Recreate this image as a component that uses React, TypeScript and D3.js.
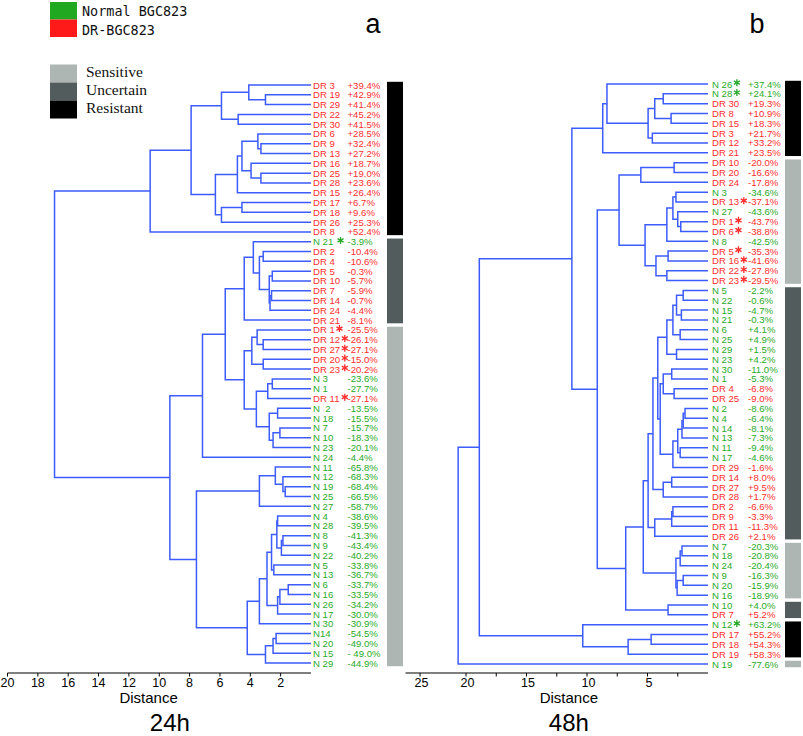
import React from "react";
import * as d3 from "d3";

type TreeNode = number | [TreeNode, TreeNode, number];

// ---------- Panel a (24h) ----------
const leavesA = ["DR 3","DR 19","DR 29","DR 22","DR 30","DR 6","DR 9","DR 13","DR 16","DR 25","DR 28","DR 15","DR 17","DR 18","DR 26","DR 8","N 21 ","DR 2","DR 4","DR 5","DR 10","DR 7","DR 14","DR 24","DR 21","DR 1","DR 12","DR 27","DR 20","DR 23","N 3","N 1","DR 11","N  2","N 18","N 7","N 10","N 23","N 24","N 11","N 12","N 19","N 25","N 27","N 4","N 28","N 8","N 9","N 22","N 5","N 13","N 6","N 16","N 26","N 17","N 30","N14","N 20","N 15","N 29"];
const valuesA = ["+39.4%","+42.9%","+41.4%","+45.2%","+41.5%","+28.5%","+32.4%","+27.2%","+18.7%","+19.0%","+23.6%","+26.4%","+6.7%","+9.6%","+25.3%","+52.4%","-3.9%","-10.4%","-10.6%","-0.3%","-5.7%","-5.9%","-0.7%","-4.4%","-8.1%","-25.5%","-26.1%","-27.1%","-15.0%","-20.2%","-23.6%","-27.7%","-27.1%","-13.5%","-15.5%","-15.7%","-18.3%","-20.1%","-4.4%","-65.8%","-68.3%","-68.4%","-66.5%","-58.7%","-38.6%","-39.5%","-41.3%","-43.4%","-40.2%","-33.8%","-36.7%","-33.7%","-33.5%","-34.2%","-30.0%","-30.9%","-54.5%","-49.0%","- 49.0%","-44.9%"];
const starsA = [16, 25, 26, 27, 28, 29, 32];
const classesA = [
  { cls: "Resistant", from: 0, to: 15 },
  { cls: "Uncertain", from: 16, to: 24 },
  { cls: "Sensitive", from: 25, to: 59 },
];
const topClusterA: TreeNode = [[0, [1, 2, 3.0], 4.1], [3, 4, 4.8], 5.9];
const midClusterA: TreeNode = [[[[5, [6, 7, 3.3], 3.5], [8, [9, 10, 3.3], 3.95], 4.55], 11, 4.85], [[12, 13, 4.55], 14, 5.9], 6.3];
const upperA: TreeNode = [[topClusterA, midClusterA, 7.9], 15, 10.6];
const uncertainA: TreeNode = [[16, [[17, 18, 3.15], [[19, 20, 2.55], [[21, 22, 2.6], 23, 2.7], 2.75], 3.4], 3.8], 24, 4.4];
const sensA1: TreeNode = [[25, [26, 27, 3.15], 3.55], [28, 29, 3.15], 3.9];
const sensA2: TreeNode = [[[30, 31, 2.55], 32, 2.85], [[33, 34, 2.2], [[35, 36, 2.05], 37, 2.5], 2.75], 3.6];
const groupA1: TreeNode = [[uncertainA, [sensA1, sensA2, 4.4], 5.65], 38, 7.15];
const sensA3: TreeNode = [[39, [40, [41, 42, 1.7], 1.85], 2.35], 43, 3.4];
const sensA4: TreeNode = [[[[44, 45, 2.2], [[46, 47, 1.85], 48, 1.95], 2.25], [49, 50, 2.45], 2.6], [[[51, 52, 1.5], 53, 2.05], 54, 2.2], 2.9];
const sensA5: TreeNode = [[[56, 57, 2.3], 58, 2.5], 59, 3.0];
const lowerA: TreeNode = [groupA1, [sensA3, [[sensA4, 55, 3.4], sensA5, 4.2], 7.55], 9.3];
const treeA: TreeNode = [upperA, lowerA, 16.9];
const ticksA = [20, 18, 16, 14, 12, 10, 8, 6, 4, 2];

// ---------- Panel b (48h) ----------
const leavesB = ["N 26","N 28","DR 30","DR 8","DR 15","DR 3","DR 12","DR 21","DR 10","DR 20","DR 24","N 3","DR 13","N 27","DR 1","DR 6","N 8","DR 5","DR 16","DR 22","DR 23","N 5","N 22","N 15","N 21","N 6","N 25","N 29","N 23","N 30","N 1","DR 4","DR 25","N 2","N 4","N 14","N 13","N 11","N 17","DR 29","DR 14","DR 27","DR 28","DR 2","DR 9","DR 11","DR 26","N 7","N 18","N 24","N 9","N 20","N 16","N 10","DR 7","N 12","DR 17","DR 18","DR 19","N 19"];
const valuesB = ["+37.4%","+24.1%","+19.3%","+10.9%","+18.3%","+21.7%","+33.2%","+23.5%","-20.0%","-16.6%","-17.8%","-34.6%","-37.1%","-43.6%","-43.7%","-38.8%","-42.5%","-35.3%","-41.6%","-27.8%","-29.5%","-2.2%","-0.6%","-4.7%","-0.3%","+4.1%","+4.9%","+1.5%","+4.2%","-11.0%","-5.3%","-6.8%","-9.0%","-8.6%","-6.4%","-8.1%","-7.3%","-9.4%","-4.6%","-1.6%","+8.0%","+9.5%","+1.7%","-6.6%","-3.3%","-11.3%","+2.1%","-20.3%","-20.8%","-20.4%","-16.3%","-15.9%","-18.9%","+4.0%","+5.2%","+63.2%","+55.2%","+54.3%","+58.3%","-77.6%"];
const starsB = [0, 1, 12, 14, 15, 17, 18, 19, 20, 55];
const classesB = [
  { cls: "Resistant", from: 0, to: 7 },
  { cls: "Sensitive", from: 8, to: 20 },
  { cls: "Uncertain", from: 21, to: 46 },
  { cls: "Sensitive", from: 47, to: 52 },
  { cls: "Uncertain", from: 53, to: 54 },
  { cls: "Resistant", from: 55, to: 58 },
  { cls: "Sensitive", from: 59, to: 59 },
];
const resB: TreeNode = [[0, [[[1, 2, 3.7], [3, 4, 3.05], 4.4], [5, 6, 4.6], 4.95], 8.35], 7, 8.7];
const sensB1: TreeNode = [[[8, 9, 2.8], 10, 5.55], [[[[11, 12, 2.65], [13, [14, 15, 2.25], 2.5], 2.9], 16, 3.4], [[17, 18, 3.3], [19, 20, 3.4], 4.3], 5.2], 7.35];
const uncB1: TreeNode = [[[[21, 22, 2.05], [23, 24, 2.2], 2.6], [25, 26, 2.3], 2.9], [27, 28, 2.6], 3.4];
const uncB2: TreeNode = [[29, 30, 3.0], [31, 32, 2.8], 3.7];
const uncB3: TreeNode = [[[[[33, 34, 1.9], 35, 2.05], 36, 2.15], [37, 38, 2.3], 2.5], 39, 2.9];
const uncB4: TreeNode = [[40, 41, 3.0], 42, 3.7];
const uncB5: TreeNode = [[[43, 44, 2.9], 45, 3.0], 46, 4.4];
const uncB: TreeNode = [[[uncB1, [uncB2, uncB3, 3.95], 4.15], uncB4, 4.55], uncB5, 4.95];
const sensB2: TreeNode = [[[47, 48, 2.15], 49, 2.3], [[50, 51, 2.05], 52, 2.55], 2.65];
const midB: TreeNode = [sensB1, [[uncB, sensB2, 5.35], [53, 54, 3.3], 6.8], 9.15];
const resB2: TreeNode = [55, [[56, 57, 4.7], 58, 6.6], 10.35];
const treeB: TreeNode = [[[resB, midB, 11.25], resB2, 18.9], 59, 20.65];
const tickMarksB = [2.5, 5, 7.5, 10, 12.5, 15, 17.5, 20, 23.8];
const tickLabelsB = [
  { v: 23.8, t: "25" },
  { v: 20, t: "20" },
  { v: 15, t: "15" },
  { v: 10, t: "10" },
  { v: 5, t: "5" },
];

// ---------- legends ----------
const cellLegend = [
  { name: "Normal BGC823", color: "#21a821" },
  { name: "DR-BGC823", color: "#ff1a1a" },
];
const classLegend = ["Sensitive", "Uncertain", "Resistant"];
const classColor: Record<string, string> = {
  Sensitive: "#adb6b3",
  Uncertain: "#525c5c",
  Resistant: "#000000",
};

const LINE = "#3d5cff";
const GREEN = "#2aaa2a";
const RED = "#ff2e2e";
const SANS = "'Liberation Sans', Arial, sans-serif";
const LABEL_SIZE = 9.6;

// Arial/Liberation Sans advance widths (em) for the label characters
const charW: Record<string, number> = { D: 0.722, R: 0.722, N: 0.722, " ": 0.278 };
function labelWidth(s: string): number {
  let w = 0;
  for (const ch of s) w += charW[ch] ?? 0.556;
  return w * LABEL_SIZE;
}
const starPath = d3.symbol(d3.symbolAsterisk, 34)() as string;

function layoutTree(
  tree: TreeNode,
  xs: d3.ScaleLinear<number, number>,
  ys: d3.ScaleLinear<number, number>
): string[] {
  const paths: string[] = [];
  function walk(n: TreeNode): { y: number; d: number } {
    if (typeof n === "number") return { y: ys(n), d: 0 };
    const [l, r, h] = n;
    const a = walk(l);
    const b = walk(r);
    const p = d3.path();
    p.moveTo(xs(a.d), a.y);
    p.lineTo(xs(h), a.y);
    p.lineTo(xs(h), b.y);
    p.lineTo(xs(b.d), b.y);
    paths.push(p.toString());
    return { y: (a.y + b.y) / 2, d: h };
  }
  walk(tree);
  return paths;
}

type PanelProps = {
  leaves: string[];
  values: string[];
  stars: number[];
  classes: { cls: string; from: number; to: number }[];
  tree: TreeNode;
  xs: d3.ScaleLinear<number, number>;
  ys: d3.ScaleLinear<number, number>;
  labelX: number;
  valueX: number;
  barX: number;
  barW: number;
};

function Panel(p: PanelProps) {
  const paths = layoutTree(p.tree, p.xs, p.ys);
  const step = p.ys(1) - p.ys(0);
  return (
    <g>
      {paths.map((d, i) => (
        <path key={i} d={d} fill="none" stroke={LINE} strokeWidth={1.5} />
      ))}
      {p.leaves.map((lab, i) => {
        const col = lab.startsWith("N") ? GREEN : RED;
        const y = p.ys(i);
        return (
          <g key={i} fill={col} fontFamily={SANS} fontSize={LABEL_SIZE}>
            <text x={p.labelX} y={y + 3.5} style={{ whiteSpace: "pre" }}>
              {lab}
            </text>
            {p.stars.includes(i) ? (
              <path
                d={starPath}
                transform={`translate(${p.labelX + labelWidth(lab) + 4.6},${y - 1.3})`}
                fill="none"
                stroke={col}
                strokeWidth={1.35}
              />
            ) : null}
            <text x={p.valueX} y={y + 3.5} style={{ whiteSpace: "pre" }}>
              {p.values[i]}
            </text>
          </g>
        );
      })}
      {p.classes.map((c, i) => (
        <rect
          key={i}
          x={p.barX}
          width={p.barW}
          y={p.ys(c.from) - step / 2 + 1.7}
          height={p.ys(c.to) - p.ys(c.from) + step - 3.4}
          fill={classColor[c.cls]}
        />
      ))}
    </g>
  );
}

export default function App() {
  const xA = d3.scaleLinear().domain([0, 20]).range([311, 7.5]);
  const yA = d3.scaleLinear().domain([0, 59]).range([85, 663]);
  const xB = d3.scaleLinear().domain([0, 25]).range([708, 405.5]);
  const yB = d3.scaleLinear().domain([0, 59]).range([84, 664]);
  const axisY = 673;

  return (
    <svg
      width={803}
      height={736}
      style={{ position: "absolute", left: 0, top: 0, background: "#fff" }}
    >
      <rect x={0} y={0} width={803} height={736} fill="#fff" />
      {/* cell legend */}
      {cellLegend.map((c, i) => (
        <g key={c.name}>
          <rect x={50} y={2 + i * 17.5} width={27} height={17.5} fill={c.color} />
          <text
            x={82}
            y={16 + i * 19}
            fontFamily="'DejaVu Sans Mono', monospace"
            fontSize={14.5}
            textLength={c.name.length * 8.1}
            lengthAdjust="spacingAndGlyphs"
            fill="#111"
          >
            {c.name}
          </text>
        </g>
      ))}
      {/* class legend */}
      {classLegend.map((c, i) => (
        <g key={c}>
          <rect x={50} y={64.5 + i * 18} width={27} height={18} fill={classColor[c]} />
          <text
            x={86}
            y={77 + i * 18}
            fontFamily="'Liberation Serif', 'Times New Roman', serif"
            fontSize={15.5}
            fill="#111"
          >
            {c}
          </text>
        </g>
      ))}

      <Panel
        leaves={leavesA}
        values={valuesA}
        stars={starsA}
        classes={classesA}
        tree={treeA}
        xs={xA}
        ys={yA}
        labelX={313}
        valueX={347.5}
        barX={387}
        barW={16}
      />
      <Panel
        leaves={leavesB}
        values={valuesB}
        stars={starsB}
        classes={classesB}
        tree={treeB}
        xs={xB}
        ys={yB}
        labelX={712}
        valueX={748}
        barX={785}
        barW={16}
      />

      {/* axis a */}
      <g fontFamily={SANS} fontSize={12.5} fill="#000">
        <line x1={xA(20)} x2={xA(0)} y1={axisY} y2={axisY} stroke="#000" strokeWidth={1.2} />
        {ticksA.map((t) => (
          <g key={t}>
            <line x1={xA(t)} x2={xA(t)} y1={axisY} y2={axisY + 3.5} stroke="#000" strokeWidth={1} />
            <text x={xA(t)} y={axisY + 14} textAnchor="middle">
              {t}
            </text>
          </g>
        ))}
        <text x={xA(10.7)} y={703} textAnchor="middle" fontSize={15}>
          Distance
        </text>
        <text x={xA(9.3)} y={731} textAnchor="middle" fontSize={24}>
          24h
        </text>
        <text x={373} y={33} textAnchor="middle" fontSize={27}>
          a
        </text>
      </g>

      {/* axis b */}
      <g fontFamily={SANS} fontSize={12.5} fill="#000">
        <line x1={xB(25)} x2={xB(0)} y1={axisY} y2={axisY} stroke="#000" strokeWidth={1.2} />
        {tickMarksB.map((t) => (
          <line key={t} x1={xB(t)} x2={xB(t)} y1={axisY} y2={axisY + 3.5} stroke="#000" strokeWidth={1} />
        ))}
        {tickLabelsB.map((t) => (
          <text key={t.t} x={xB(t.v) + 1.5} y={axisY + 14} textAnchor="middle">
            {t.t}
          </text>
        ))}
        <text x={xB(11.5)} y={703} textAnchor="middle" fontSize={15}>
          Distance
        </text>
        <text x={xB(11.5)} y={731} textAnchor="middle" fontSize={24}>
          48h
        </text>
        <text x={757} y={33} textAnchor="middle" fontSize={27}>
          b
        </text>
      </g>
    </svg>
  );
}
